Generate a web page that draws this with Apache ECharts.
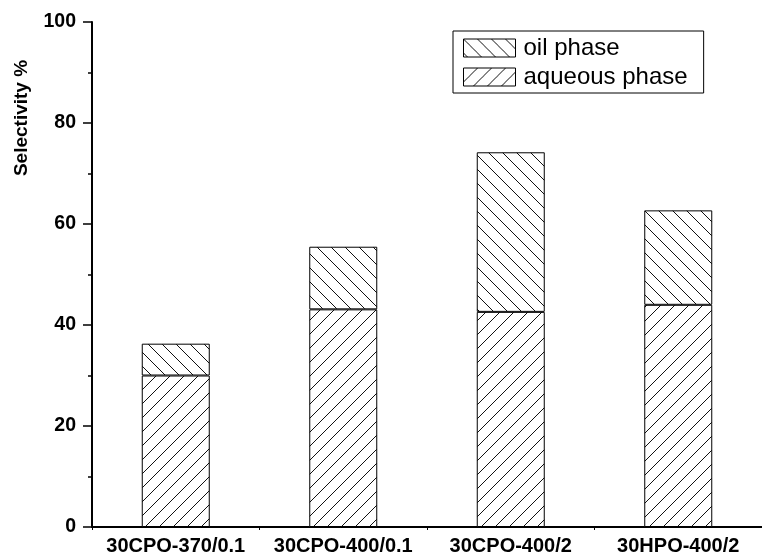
<!DOCTYPE html>
<html>
<head>
<meta charset="utf-8">
<script src="https://cdn.jsdelivr.net/npm/echarts@6/dist/echarts.min.js"></script>
<style>html,body{margin:0;padding:0;background:#fff;}#c{width:762px;height:556px;}</style>
</head>
<body>
<div id="c"></div>
<script>
var categories = ['30CPO-370/0.1', '30CPO-400/0.1', '30CPO-400/2', '30HPO-400/2'];
var aqueousPhase = [30.0, 43.1, 42.6, 44.0];
var oilPhase = [6.3, 12.4, 31.6, 18.7];
var seriesNames = ['oil phase', 'aqueous phase'];
var yTicks = [0, 20, 40, 60, 80, 100];

function hatch(dir) {
  var s = 14;
  var c = document.createElement('canvas');
  c.width = s; c.height = s;
  var g = c.getContext('2d');
  g.fillStyle = '#fff';
  g.fillRect(0, 0, s, s);
  g.strokeStyle = '#111';
  g.lineWidth = 1;
  for (var k = -1; k <= 1; k++) {
    g.beginPath();
    if (dir === 'back') {
      g.moveTo(k * s, 0); g.lineTo(k * s + s, s);
    } else {
      g.moveTo(k * s, s); g.lineTo(k * s + s, 0);
    }
    g.stroke();
  }
  return { image: c, repeat: 'repeat' };
}

var font = 'Arial, "Liberation Sans", sans-serif';
var chart = echarts.init(document.getElementById('c'));
chart.setOption({
  animation: false,
  backgroundColor: '#fff',
  grid: { left: 92, right: -12, top: 22, bottom: 28, containLabel: false },
  legend: {
    data: seriesNames,
    orient: 'vertical',
    left: 453, top: 31,
    padding: [5, 16, 4, 10],
    itemGap: 5,
    itemWidth: 52, itemHeight: 18,
    icon: 'rect',
    borderColor: '#000', borderWidth: 1,
    backgroundColor: '#fff',
    itemStyle: { borderColor: '#000', borderWidth: 1 },
    textStyle: { fontSize: 24, fontFamily: font, color: '#000', padding: [0, 0, 0, 3] }
  },
  xAxis: {
    type: 'category',
    data: categories,
    axisLine: { lineStyle: { color: '#000', width: 2 } },
    axisTick: { show: true, length: 3, lineStyle: { color: '#000' } },
    axisLabel: { interval: 0, hideOverlap: false, fontSize: 20, fontWeight: 'bold', fontFamily: font, color: '#000', margin: 9 },
    splitLine: { show: false }
  },
  yAxis: {
    type: 'value',
    min: yTicks[0], max: yTicks[yTicks.length - 1], interval: 20,
    axisLine: { show: true, lineStyle: { color: '#000', width: 2 } },
    axisTick: { show: true, length: 9, lineStyle: { color: '#000', width: 1.5 } },
    minorTick: { show: true, splitNumber: 2, length: 4, lineStyle: { color: '#000', width: 1.5 } },
    axisLabel: { fontSize: 19.5, fontWeight: 'bold', fontFamily: font, color: '#000', margin: 16 },
    splitLine: { show: false }
  },
  graphic: [{
    type: 'text',
    x: 22, y: 118,
    rotation: Math.PI / 2,
    style: {
      text: 'Selectivity %',
      font: 'bold 19px ' + font,
      fill: '#000',
      textAlign: 'center',
      textVerticalAlign: 'middle'
    }
  }],
  series: [
    {
      name: seriesNames[1], type: 'bar', stack: 'total', barWidth: 68,
      data: aqueousPhase,
      itemStyle: { color: hatch('fwd'), borderColor: '#000', borderWidth: 1 }
    },
    {
      name: seriesNames[0], type: 'bar', stack: 'total', barWidth: 68,
      data: oilPhase,
      itemStyle: { color: hatch('back'), borderColor: '#000', borderWidth: 1 }
    }
  ]
});
</script>
</body>
</html>
